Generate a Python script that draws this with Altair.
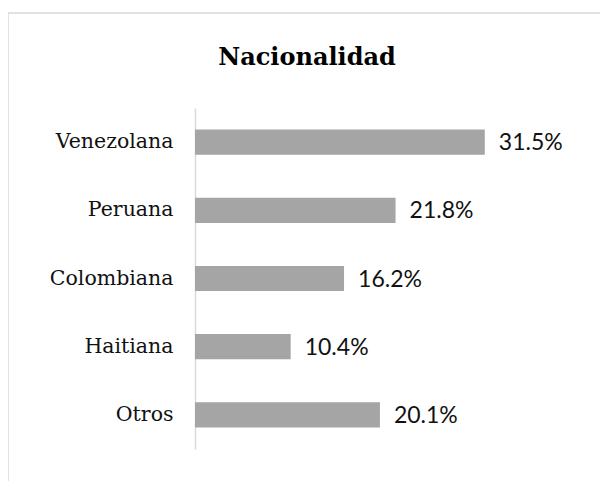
import altair as alt
import pandas as pd

categories = ["Venezolana", "Peruana", "Colombiana", "Haitiana", "Otros"]
values = [31.5, 21.8, 16.2, 10.4, 20.1]
labels = ["31.5%", "21.8%", "16.2%", "10.4%", "20.1%"]

df = pd.DataFrame({"cat": categories, "val": values, "lab": labels})

W, H = 368, 341
PL, PT = 187, 100

y = alt.Y("cat:N", sort=categories, title=None,
          scale=alt.Scale(paddingInner=0.63, paddingOuter=0.315),
          axis=alt.Axis(ticks=False, domain=True, domainColor="#d9d9d9", domainWidth=1.5,
                        labelFont="DejaVu Serif", labelFontSize=20.5, labelColor="#111111",
                        labelPadding=22, grid=False))
x = alt.X("val:Q", title=None, scale=alt.Scale(domain=[0, 40]), axis=None)

bars = alt.Chart(df).mark_bar(color="#a5a5a5").encode(x=x, y=y)
text = alt.Chart(df).mark_text(align="left", baseline="middle", dx=14, dy=1,
                               font="Lato", fontSize=23, color="#111111").encode(
    x=x, y=y, text="lab:N")

frame_df = pd.DataFrame({"a": [0]})
top_line = alt.Chart(frame_df).mark_rule(color="#d9d9d9", strokeWidth=1.5).encode(
    x=alt.value(-PL), x2=alt.value(608 - 8 - PL), y=alt.value(-95))
left_line = alt.Chart(frame_df).mark_rule(color="#d9d9d9", strokeWidth=1.5).encode(
    x=alt.value(-PL), y=alt.value(-95), y2=alt.value(489 - 8 - PT))

chart = alt.layer(top_line, left_line, bars, text).properties(
    width=W, height=H,
    title=alt.TitleParams("Nacionalidad", anchor="start", align="center", dx=112,
                          dy=96, frame="group",
                          font="DejaVu Serif", fontSize=24, fontWeight="bold",
                          color="#000000", offset=38),
    autosize=alt.AutoSizeParams(type="none"),
    padding={"left": PL, "top": PT, "right": 608 - 16 - PL - W, "bottom": 489 - 16 - PT - H},
).configure(background="white").configure_view(strokeWidth=0, stroke="transparent")

chart.save("out.html", embed_options={"renderer": "svg", "actions": False})
